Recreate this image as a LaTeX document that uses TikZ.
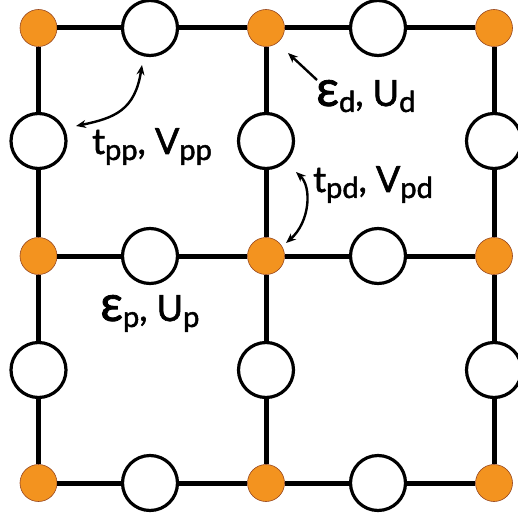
\documentclass[tikz,border=0pt]{standalone}
\usepackage{fontspec}
\setmainfont{Lato}
\newfontfamily\lblfont{Lato}[FakeBold=1.6]
\usetikzlibrary{arrows.meta}
\definecolor{dorange}{RGB}{243,147,31}
\definecolor{dedge}{RGB}{150,70,30}
\newcommand{\lsub}[1]{\raisebox{-6pt}{\fontsize{29}{29}\selectfont #1}}
\newcommand{\bigeps}{\scalebox{1.4}{ε}}
\begin{document}
\begin{tikzpicture}[x=1pt,y=-1pt,
  dsite/.style={circle,fill=dorange,draw=dedge,line width=0.6pt,minimum size=37pt,inner sep=0pt},
  psite/.style={circle,fill=white,draw=black,line width=3.2pt,minimum size=55pt,inner sep=0pt},
  bond/.style={line width=5pt,black},
  hop/.style={line width=2.4pt,black,{Stealth[length=10pt,width=8pt]}-{Stealth[length=10pt,width=8pt]}},
  lbl/.style={anchor=base west,inner sep=0pt,font=\lblfont\fontsize{36}{36}\selectfont}]
\useasboundingbox (0,0) rectangle (518,518);
% copper (d) sites
\foreach \r/\y in {1/28,2/256,3/483}{
  \foreach \c/\x in {1/38.5,2/266,3/494}{
    \node[dsite] (d\r\c) at (\x,\y) {};
  }
}
% horizontal oxygen sites
\foreach \r/\y in {1/28,2/256,3/483}{
  \node[psite] (h\r1) at (150,\y) {};
  \node[psite] (h\r2) at (378,\y) {};
}
% vertical oxygen sites
\foreach \c/\x in {1/38.5,2/266,3/494}{
  \node[psite] (v1\c) at (\x,141) {};
  \node[psite] (v2\c) at (\x,370) {};
}
% bonds
\foreach \r in {1,2,3}{
  \draw[bond] (d\r1) -- (h\r1);
  \draw[bond] (h\r1) -- (d\r2);
  \draw[bond] (d\r2) -- (h\r2);
  \draw[bond] (h\r2) -- (d\r3);
}
\foreach \c in {1,2,3}{
  \draw[bond] (d1\c) -- (v1\c);
  \draw[bond] (v1\c) -- (d2\c);
  \draw[bond] (d2\c) -- (v2\c);
  \draw[bond] (v2\c) -- (d3\c);
}
% labels
\node[lbl] (tpp) at (92,154) {t\lsub{pp}, V\lsub{pp}};
\node[lbl] (ed) at (316,106) {\bigeps\lsub{d}, U\lsub{d}};
\node[lbl] (tpd) at (313,192) {t\lsub{pd}, V\lsub{pd}};
\node[lbl] (ep) at (100,321) {\bigeps\lsub{p}, U\lsub{p}};
% arrows
\coordinate (a1s) at (76,126);
\coordinate (a1e) at (142,65);
\draw[hop] (a1s) .. controls (115,118) and (135,110) .. (a1e);
\coordinate (a2s) at (317,80);
\coordinate (a2e) at (288,53);
\draw[line width=2.4pt,-{Stealth[length=10pt,width=8pt]}] (a2s) -- (a2e);
\coordinate (a3s) at (296,172);
\coordinate (a3e) at (286,243);
\draw[hop] (a3s) .. controls (312,187) and (310,222) .. (a3e);
\end{tikzpicture}
\end{document}
